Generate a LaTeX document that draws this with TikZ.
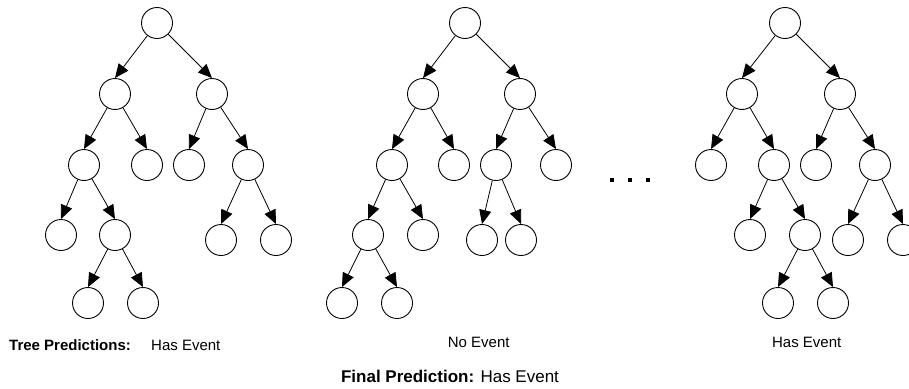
\documentclass[tikz,border=0pt]{standalone}
\usepackage{fontspec}
\setmainfont{Liberation Sans}
\usetikzlibrary{arrows.meta}
\begin{document}
\begin{tikzpicture}[x=1pt,y=-1pt,
  tn/.style={circle,draw,line width=0.9pt,minimum size=31pt,inner sep=0pt,fill=white},
  arr/.style={line width=0.8pt,-{Triangle[length=14pt,width=12pt]}},
  lbl/.style={inner sep=0pt,font=\fontsize{15}{18}\selectfont},
  dotsq/.style={fill=black,minimum size=4pt,inner sep=0pt}]
\useasboundingbox (0,0) rectangle (909,388);

% ---------- Tree 1 ----------
\node[tn] (ar) at (157,23) {};
\node[tn] (aa) at (115,94) {};
\node[tn] (ab) at (212,94) {};
\node[tn] (ac) at (84,165) {};
\node[tn] (ad) at (147,165) {};
\node[tn] (ae) at (189,165) {};
\node[tn] (af) at (248,165) {};
\node[tn] (ag) at (61,235) {};
\node[tn] (ah) at (115,235) {};
\node[tn] (ai) at (221,240) {};
\node[tn] (aj) at (276,240) {};
\node[tn] (ak) at (88,303) {};
\node[tn] (al) at (143,303) {};
\draw[arr] (ar) -- (aa.north);
\draw[arr] (ar) -- (ab.north);
\draw[arr] (aa) -- (ac.north);
\draw[arr] (aa) -- (ad.north);
\draw[arr] (ab) -- (ae.north);
\draw[arr] (ab) -- (af.north);
\draw[arr] (ac) -- (ag.north);
\draw[arr] (ac) -- (ah.north);
\draw[arr] (af) -- (ai.north);
\draw[arr] (af) -- (aj.north);
\draw[arr] (ah) -- (ak.north);
\draw[arr] (ah) -- (al.north);

% ---------- Tree 2 ----------
\node[tn] (br) at (465,23) {};
\node[tn] (ba) at (423,94) {};
\node[tn] (bb) at (520,94) {};
\node[tn] (bc) at (392,165) {};
\node[tn] (bd) at (454,165) {};
\node[tn] (be) at (496,165) {};
\node[tn] (bf) at (556,165) {};
\node[tn] (bg) at (368,235) {};
\node[tn] (bh) at (423,235) {};
\node[tn] (bi) at (482,240) {};
\node[tn] (bj) at (521,240) {};
\node[tn] (bk) at (342,303) {};
\node[tn] (bl) at (397,303) {};
\draw[arr] (br) -- (ba.north);
\draw[arr] (br) -- (bb.north);
\draw[arr] (ba) -- (bc.north);
\draw[arr] (ba) -- (bd.north);
\draw[arr] (bb) -- (be.north);
\draw[arr] (bb) -- (bf.north);
\draw[arr] (bc) -- (bg.north);
\draw[arr] (bc) -- (bh.north);
\draw[arr] (be) -- (bi.north);
\draw[arr] (be) -- (bj.north);
\draw[arr] (bg) -- (bk.north);
\draw[arr] (bg) -- (bl.north);

% ---------- Tree 3 ----------
\node[tn] (cr) at (785,23) {};
\node[tn] (ca) at (742,94) {};
\node[tn] (cb) at (840,94) {};
\node[tn] (cc) at (711,165) {};
\node[tn] (cd) at (774,165) {};
\node[tn] (ce) at (816,165) {};
\node[tn] (cf) at (875,165) {};
\node[tn] (cg) at (750,235) {};
\node[tn] (ch) at (805,235) {};
\node[tn] (ci) at (848,240) {};
\node[tn] (cj) at (903,240) {};
\node[tn] (ck) at (778,303) {};
\node[tn] (cl) at (833,303) {};
\draw[arr] (cr) -- (ca.north);
\draw[arr] (cr) -- (cb.north);
\draw[arr] (ca) -- (cc.north);
\draw[arr] (ca) -- (cd.north);
\draw[arr] (cb) -- (ce.north);
\draw[arr] (cb) -- (cf.north);
\draw[arr] (cd) -- (cg.north);
\draw[arr] (cd) -- (ch.north);
\draw[arr] (cf) -- (ci.north);
\draw[arr] (cf) -- (cj.north);
\draw[arr] (ch) -- (ck.north);
\draw[arr] (ch) -- (cl.north);

% ---------- ellipsis ----------
\node[dotsq] (d1) at (612,180.3) {};
\node[dotsq] (d2) at (630,180.3) {};
\node[dotsq] (d3) at (648,180.3) {};

% ---------- labels ----------
\node[lbl,anchor=base west] (tp) at (9,350.7) {\textbf{Tree Predictions:}};
\node[lbl,anchor=base west] (p1) at (151,350.7) {Has Event};
\node[lbl,anchor=base] (p2) at (478.7,347) {No Event};
\node[lbl,anchor=base] (p3) at (806.7,347) {Has Event};
\node[inner sep=0pt,anchor=base,font=\fontsize{17}{20}\selectfont] (fp) at (450,382.7) {\textbf{Final Prediction:} Has Event};
\end{tikzpicture}
\end{document}
